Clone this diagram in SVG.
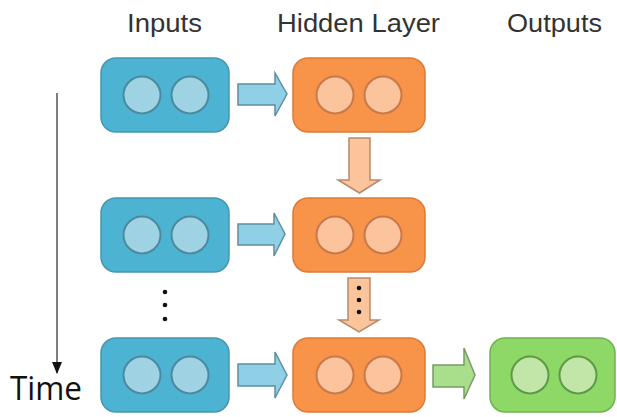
<svg xmlns="http://www.w3.org/2000/svg" width="617" height="417" viewBox="0 0 617 417">
<defs>
<style>
.hdr{font-family:"Liberation Sans",Arial,sans-serif;font-size:26px;fill:#333333}
.time{font-family:"Open Sans","Noto Sans",sans-serif;font-size:33px;fill:#111}
.bbox{fill:#4db3d2;stroke:#4596b0;stroke-width:1.5}
.bc{fill:#9fd3e4;stroke:#4b8a9e;stroke-width:2}
.obox{fill:#f8934a;stroke:#de7a38;stroke-width:1.5}
.oc{fill:#fbc49c;stroke:#c9784a;stroke-width:2}
.gbox{fill:#8ed867;stroke:#6fb24e;stroke-width:1.5}
.gc{fill:#c2e5a8;stroke:#5c9a45;stroke-width:2}
.barrow{fill:#8fd0e6;stroke:#5d8fa0;stroke-width:1.5}
.oarrow{fill:#fbc49a;stroke:#b9896a;stroke-width:1.5}
.garrow{fill:#a9df8a;stroke:#7a9a6a;stroke-width:1.5}
.dot{fill:#111}
</style>
<marker id="ah" markerWidth="12" markerHeight="12" refX="11" refY="5" orient="auto" markerUnits="userSpaceOnUse">
<path d="M0,0 L12,5 L0,10 Z" fill="#111"/>
</marker>
</defs>
<rect width="617" height="417" fill="#ffffff"/>

<g id="headers">
<text class="hdr" x="127" y="32" textLength="75" lengthAdjust="spacingAndGlyphs">Inputs</text>
<text class="hdr" x="277" y="32" textLength="163" lengthAdjust="spacingAndGlyphs">Hidden Layer</text>
<text class="hdr" x="507" y="32" textLength="95" lengthAdjust="spacingAndGlyphs">Outputs</text>
</g>

<g id="time-axis">
<line x1="57" y1="93" x2="57" y2="373" stroke="#555" stroke-width="1.5" marker-end="url(#ah)"/>
<text class="time" x="10" y="400" textLength="72" lengthAdjust="spacingAndGlyphs">Time</text>
</g>

<g id="input1">
<rect class="bbox" x="101" y="58" width="128" height="74" rx="15"/>
<circle class="bc" cx="142" cy="95" r="18.5"/>
<circle class="bc" cx="190" cy="95" r="18.5"/>
</g>
<g id="hidden1">
<rect class="obox" x="293" y="58" width="132" height="74" rx="15"/>
<circle class="oc" cx="335" cy="95" r="18.5"/>
<circle class="oc" cx="383" cy="95" r="18.5"/>
</g>

<g id="input2">
<rect class="bbox" x="101" y="198" width="128" height="74" rx="15"/>
<circle class="bc" cx="142" cy="235" r="18.5"/>
<circle class="bc" cx="190" cy="235" r="18.5"/>
</g>
<g id="hidden2">
<rect class="obox" x="293" y="198" width="132" height="74" rx="15"/>
<circle class="oc" cx="335" cy="235" r="18.5"/>
<circle class="oc" cx="383" cy="235" r="18.5"/>
</g>

<g id="input3">
<rect class="bbox" x="101" y="338" width="128" height="74" rx="15"/>
<circle class="bc" cx="142" cy="375" r="18.5"/>
<circle class="bc" cx="190" cy="375" r="18.5"/>
</g>
<g id="hidden3">
<rect class="obox" x="293" y="338" width="132" height="74" rx="15"/>
<circle class="oc" cx="335" cy="375" r="18.5"/>
<circle class="oc" cx="383" cy="375" r="18.5"/>
</g>
<g id="output3">
<rect class="gbox" x="490" y="338" width="125" height="74" rx="15"/>
<circle class="gc" cx="530" cy="375" r="18.5"/>
<circle class="gc" cx="578" cy="375" r="18.5"/>
</g>

<g id="ellipsis">
<circle class="dot" cx="165" cy="292" r="2.3"/>
<circle class="dot" cx="165" cy="305" r="2.3"/>
<circle class="dot" cx="165" cy="319" r="2.3"/>
</g>

<g id="connectors">
<path class="barrow" d="M238,84 H275 V73 L287,94 L275,116 V105 H238 Z"/>
<path class="barrow" d="M238,224 H274 V213 L285,234 L274,256 V245 H238 Z"/>
<path class="barrow" d="M238,364 H275 V352 L287,375 L275,398 V386 H238 Z"/>
<path class="garrow" d="M433,365 H464 V348 L475,375 L464,399 V387 H433 Z"/>
<path class="oarrow" d="M349,138 H370 V180 H380 L359.5,193 L338,180 H349 Z"/>
<path class="oarrow" d="M348,278 H370 V320 H379 L359,332 L339,320 H348 Z"/>
<circle class="dot" cx="359" cy="288" r="2.3"/>
<circle class="dot" cx="359" cy="300" r="2.3"/>
<circle class="dot" cx="359" cy="312" r="2.3"/>
</g>
</svg>
